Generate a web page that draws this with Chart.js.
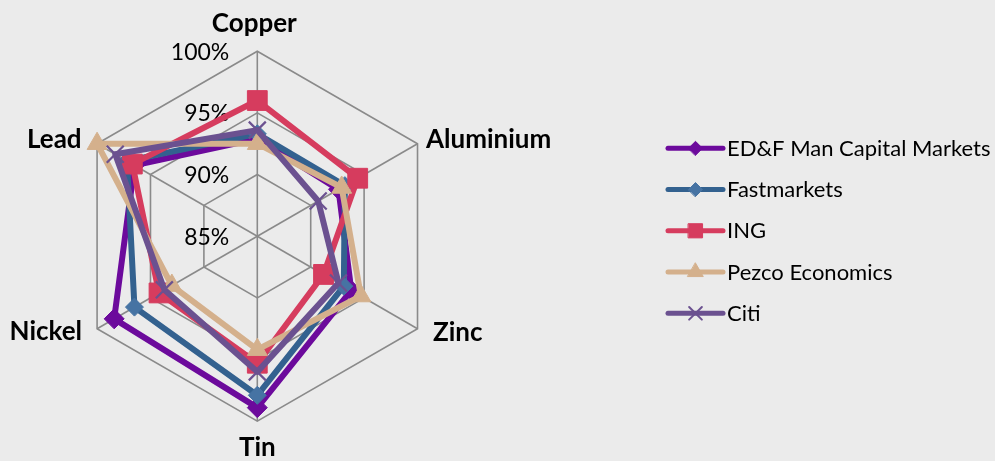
<!DOCTYPE html>
<html>
<head>
<meta charset="utf-8">
<script src="https://cdn.jsdelivr.net/npm/chart.js@4.4.0/dist/chart.umd.min.js"></script>
<style>
  html, body { margin: 0; padding: 0; background: #ebebeb; }
  #wrap { position: relative; width: 995px; height: 461px; }
</style>
</head>
<body>
<div id="wrap"><canvas id="radarChart"></canvas></div>
<script>
// Metals on the radar axes
const metals = ['Copper', 'Aluminium', 'Zinc', 'Tin', 'Nickel', 'Lead'];

// Forecast accuracy per house (%), same order as metals
const edfMan      = [92.9, 92.6, 93.8, 98.9, 98.4, 96.5];
const fastmarkets = [93.3, 93.2, 93.1, 97.9, 96.5, 97.2];
const ing         = [96.0, 94.4, 91.2, 95.3, 94.2, 96.7];
const pezco       = [92.5, 92.9, 94.7, 94.2, 93.0, 100.0];
const citi        = [93.6, 90.7, 92.6, 96.0, 93.7, 98.3];

const seriesNames = ['ED&F Man Capital Markets', 'Fastmarkets', 'ING', 'Pezco Economics', 'Citi'];

// Radial axis range and tick labels
const axisMin = 85;
const axisMax = 100;
const tickValues = [85, 90, 95, 100];

// Layout of the radar (matches the Excel original)
const CX = 257.3;
const CY = 236.2;
const RADIUS = 185;
const GRID = '#8a8a8a';
const FONT = 'Lato, "Noto Sans", sans-serif';

// Style per series
const styles = [
  { line: '#6c0a9c', fill: '#6c0a9c', shape: 'rectRot', r: 10, lr: 7 },
  { line: '#33618f', fill: '#4673a3', shape: 'rectRot', r: 9, lr: 7 },
  { line: '#d63c5e', fill: '#d63c5e', shape: 'rect', r: 14, lr: 10 },
  { line: '#d4b08c', fill: '#d4b08c', shape: 'triangle', r: 11.5, lr: 9 },
  { line: '#6b5190', fill: '#6b5190', shape: 'crossRot', r: 12, lr: 9 }
];

const seriesData = [edfMan, fastmarkets, ing, pezco, citi];

const datasets = seriesData.map((values, i) => {
  const s = styles[i];
  return {
    label: seriesNames[i],
    data: values,
    order: seriesData.length - i, // later series drawn on top
    borderColor: s.line,
    borderWidth: 6,
    borderJoinStyle: 'round',
    backgroundColor: 'transparent',
    fill: false,
    pointStyle: s.shape,
    pointRadius: s.r,
    pointHoverRadius: s.r,
    pointBackgroundColor: s.fill,
    pointBorderColor: s.shape === 'crossRot' ? s.line : s.fill,
    pointBorderWidth: s.shape === 'crossRot' ? 2.2 : 1
  };
});

// Draws tick labels, axis names and the legend the way Excel does
const excelDecor = {
  id: 'excelDecor',
  beforeDatasetsDraw(chart) {
    const ctx = chart.ctx;
    const scale = chart.scales.r;
    ctx.save();
    ctx.fillStyle = '#000';

    // tick labels, right aligned just left of the vertical axis
    ctx.font = '23px ' + FONT;
    ctx.textAlign = 'right';
    ctx.textBaseline = 'alphabetic';
    tickValues.forEach(v => {
      const y = scale.yCenter - scale.getDistanceFromCenterForValue(v);
      ctx.fillText(v + '%', scale.xCenter - 28, y + 8.5);
    });

    // axis names
    ctx.font = 'bold 26px ' + FONT;
    metals.forEach((name, i) => {
      const p = scale.getPointPosition(i, scale.drawingArea);
      const dx = p.x - scale.xCenter;
      const dy = p.y - scale.yCenter;
      if (Math.abs(dx) < 1) {
        ctx.textAlign = 'center';
        if (dy < 0) ctx.fillText(name, p.x - 3, p.y - 19);
        else ctx.fillText(name, p.x, p.y + 35);
      } else if (dx > 0) {
        ctx.textAlign = 'left';
        if (dy < 0) ctx.fillText(name, p.x + 8.5, p.y + 4.5);
        else ctx.fillText(name, p.x + 15.5, p.y + 12);
      } else {
        ctx.textAlign = 'right';
        if (dy < 0) ctx.fillText(name, p.x - 15.5, p.y + 4.5);
        else ctx.fillText(name, p.x - 15, p.y + 11.5);
      }
    });
    ctx.restore();
  },
  afterDraw(chart) {
    const ctx = chart.ctx;
    const x0 = 668, x1 = 723, top = 148.3, gap = 41.25;
    ctx.save();
    chart.data.datasets.forEach((ds, i) => {
      const s = styles[i];
      const y = top + i * gap;
      ctx.strokeStyle = s.line;
      ctx.lineWidth = 5;
      ctx.lineCap = 'round';
      ctx.beginPath();
      ctx.moveTo(x0, y);
      ctx.lineTo(x1, y);
      ctx.stroke();

      ctx.fillStyle = s.fill;
      ctx.strokeStyle = s.shape === 'crossRot' ? s.line : s.fill;
      ctx.lineWidth = s.shape === 'crossRot' ? 2 : 1;
      Chart.helpers.drawPoint(ctx, { pointStyle: s.shape, radius: s.lr, rotation: 0, borderWidth: ctx.lineWidth }, (x0 + x1) / 2, y);

      ctx.fillStyle = '#000';
      ctx.font = '22px ' + FONT;
      ctx.textAlign = 'left';
      ctx.textBaseline = 'alphabetic';
      ctx.fillText(ds.label, 727, y + 7.5);
    });
    ctx.restore();
  }
};

const ctx = document.getElementById('radarChart').getContext('2d');

const radarChart = new Chart(ctx, {
  type: 'radar',
  data: {
    labels: metals,
    datasets: datasets
  },
  options: {
    responsive: true,
    maintainAspectRatio: false,
    animation: false,
    layout: { padding: 0 },
    plugins: {
      legend: { display: false },
      tooltip: { enabled: false }
    },
    elements: {
      line: { tension: 0 }
    },
    scales: {
      r: {
        min: axisMin,
        max: axisMax,
        startAngle: 0,
        ticks: { display: false, stepSize: 5 },
        grid: { color: GRID, lineWidth: 1.6 },
        angleLines: { color: GRID, lineWidth: 1.6 },
        pointLabels: { display: false },
        afterFit: (scale) => {
          // pin the web to the same spot and size as the original
          scale.xCenter = CX;
          scale.yCenter = CY;
          scale.drawingArea = RADIUS;
        }
      }
    }
  },
  plugins: [excelDecor]
});
</script>
</body>
</html>
